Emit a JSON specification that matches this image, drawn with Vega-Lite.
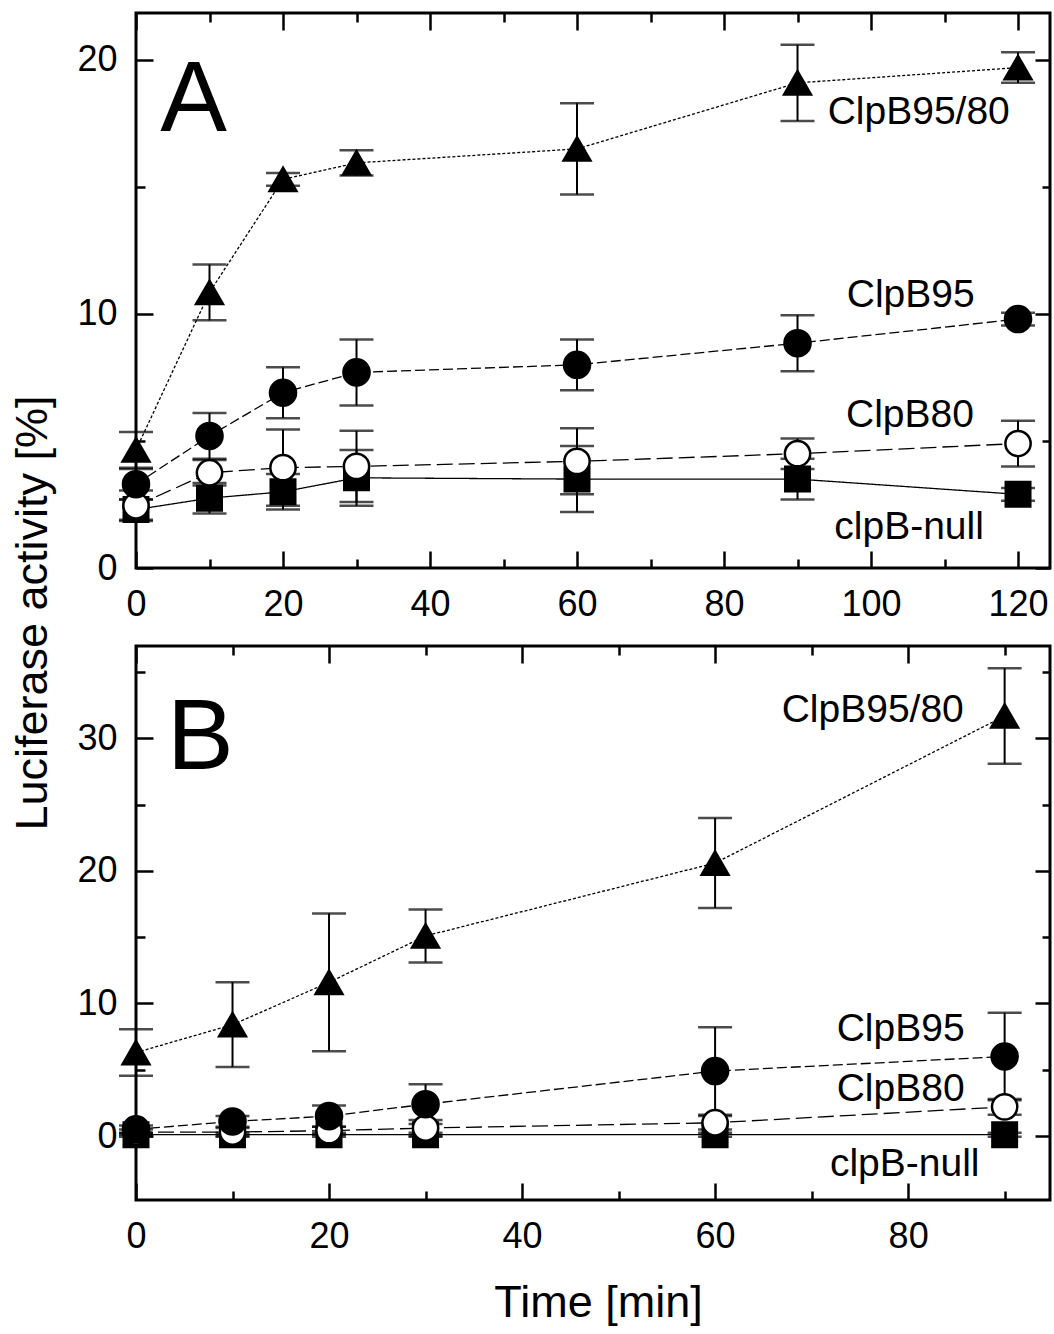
{
  "$schema": "https://vega.github.io/schema/vega-lite/v6.json",
  "background": "white",
  "padding": {"left": 8, "top": 10, "right": 2, "bottom": 5},
  "bounds": "flush",
  "spacing": 78,
  "config": {
    "view": {"stroke": "black", "strokeWidth": 3},
    "mark": {"color": "black"},
    "axis": {"labelFont": "Liberation Sans", "labelFontSize": 36, "labelColor": "black", "tickColor": "black", "domain": false, "grid": false, "titleFont": "Liberation Sans", "titleFontSize": 45, "titleFontWeight": "normal", "titleColor": "black", "labelFlush": false, "labelOverlap": false, "tickWidth": 2.5}
  },
  "datasets": {
    "a": [
      {"t": 0, "v": 2.3, "err": 0.4, "s": "clpB-null"},
      {"t": 10, "v": 2.75, "err": 0.6, "s": "clpB-null"},
      {"t": 20, "v": 3.0, "err": 0.7, "s": "clpB-null"},
      {"t": 30, "v": 3.55, "err": 1.1, "s": "clpB-null"},
      {"t": 60, "v": 3.5, "err": 1.3, "s": "clpB-null"},
      {"t": 90, "v": 3.5, "err": 0.8, "s": "clpB-null"},
      {"t": 120, "v": 2.9, "err": 0.25, "s": "clpB-null"},
      {"t": 0, "v": 2.45, "err": 0.6, "s": "ClpB80"},
      {"t": 10, "v": 3.75, "err": 0.5, "s": "ClpB80"},
      {"t": 20, "v": 3.95, "err": 1.5, "s": "ClpB80"},
      {"t": 30, "v": 4.0, "err": 1.4, "s": "ClpB80"},
      {"t": 60, "v": 4.2, "err": 1.3, "s": "ClpB80"},
      {"t": 90, "v": 4.5, "err": 0.6, "s": "ClpB80"},
      {"t": 120, "v": 4.9, "err": 0.9, "s": "ClpB80"},
      {"t": 0, "v": 3.3, "err": 0.6, "s": "ClpB95"},
      {"t": 10, "v": 5.2, "err": 0.9, "s": "ClpB95"},
      {"t": 20, "v": 6.9, "err": 1.0, "s": "ClpB95"},
      {"t": 30, "v": 7.7, "err": 1.3, "s": "ClpB95"},
      {"t": 60, "v": 8.0, "err": 1.0, "s": "ClpB95"},
      {"t": 90, "v": 8.85, "err": 1.1, "s": "ClpB95"},
      {"t": 120, "v": 9.8, "err": 0.25, "s": "ClpB95"},
      {"t": 0, "v": 4.65, "err": 0.7, "s": "ClpB95/80"},
      {"t": 10, "v": 10.85, "err": 1.1, "s": "ClpB95/80"},
      {"t": 20, "v": 15.3, "err": 0.25, "s": "ClpB95/80"},
      {"t": 30, "v": 15.95, "err": 0.5, "s": "ClpB95/80"},
      {"t": 60, "v": 16.5, "err": 1.8, "s": "ClpB95/80"},
      {"t": 90, "v": 19.1, "err": 1.5, "s": "ClpB95/80"},
      {"t": 120, "v": 19.7, "err": 0.6, "s": "ClpB95/80"}
    ],
    "b": [
      {"t": 0, "v": 0.1, "err": 0.15, "s": "clpB-null"},
      {"t": 10, "v": 0.1, "err": 0.15, "s": "clpB-null"},
      {"t": 20, "v": 0.1, "err": 0.15, "s": "clpB-null"},
      {"t": 30, "v": 0.1, "err": 0.15, "s": "clpB-null"},
      {"t": 60, "v": 0.1, "err": 0.15, "s": "clpB-null"},
      {"t": 90, "v": 0.1, "err": 0.15, "s": "clpB-null"},
      {"t": 0, "v": 0.3, "err": 0.2, "s": "ClpB80"},
      {"t": 10, "v": 0.3, "err": 0.3, "s": "ClpB80"},
      {"t": 20, "v": 0.4, "err": 0.3, "s": "ClpB80"},
      {"t": 30, "v": 0.6, "err": 0.6, "s": "ClpB80"},
      {"t": 60, "v": 1.0, "err": 0.5, "s": "ClpB80"},
      {"t": 90, "v": 2.2, "err": 0.6, "s": "ClpB80"},
      {"t": 0, "v": 0.5, "err": 0.3, "s": "ClpB95"},
      {"t": 10, "v": 1.1, "err": 0.4, "s": "ClpB95"},
      {"t": 20, "v": 1.5, "err": 0.8, "s": "ClpB95"},
      {"t": 30, "v": 2.4, "err": 1.5, "s": "ClpB95"},
      {"t": 60, "v": 4.9, "err": 3.3, "s": "ClpB95"},
      {"t": 90, "v": 6.0, "err": 3.3, "s": "ClpB95"},
      {"t": 0, "v": 6.3, "err": 1.75, "s": "ClpB95/80"},
      {"t": 10, "v": 8.4, "err": 3.2, "s": "ClpB95/80"},
      {"t": 20, "v": 11.6, "err": 5.2, "s": "ClpB95/80"},
      {"t": 30, "v": 15.1, "err": 2.0, "s": "ClpB95/80"},
      {"t": 60, "v": 20.6, "err": 3.4, "s": "ClpB95/80"},
      {"t": 90, "v": 31.7, "err": 3.6, "s": "ClpB95/80"}
    ],
    "la": [
      {"t": 94.1, "v": 17.48, "label": "ClpB95/80"},
      {"t": 96.7, "v": 10.28, "label": "ClpB95"},
      {"t": 96.6, "v": 5.55, "label": "ClpB80"},
      {"t": 95.0, "v": 1.14, "label": "clpB-null"}
    ],
    "lb": [
      {"t": 66.9, "v": 31.25, "label": "ClpB95/80"},
      {"t": 72.6, "v": 7.17, "label": "ClpB95"},
      {"t": 72.6, "v": 2.64, "label": "ClpB80"},
      {"t": 71.9, "v": -3.02, "label": "clpB-null"}
    ],
    "pa": [{"t": 3.3, "v": 17.2, "label": "A"}],
    "pb": [{"t": 3.2, "v": 27.7, "label": "B"}]
  },
  "vconcat": [
    {
      "width": 914,
      "height": 555,
      "resolve": {"axis": {"x": "independent", "y": "independent"}},
      "layer": [
        {
          "data": {"name": "a"},
          "mark": {"type": "line", "color": "black", "strokeWidth": 1.3},
          "encoding": {
            "x": {"field": "t", "type": "quantitative", "scale": {"domain": [0, 124.35], "nice": false, "zero": false},
              "axis": {"orient": "bottom", "title": null, "values": [0,10,20,30,40,50,60,70,80,90,100,110,120],
                "tickSize": {"condition": {"test": "datum.value % 20 === 0", "value": -17}, "value": -9},
                "labelExpr": "datum.value % 20 === 0 ? datum.label : ''", "labelPadding": 36}},
            "y": {"field": "v", "type": "quantitative", "scale": {"domain": [0, 21.85], "nice": false, "zero": false},
              "axis": {"orient": "left", "title": null, "values": [0,5,10,15,20],
                "tickSize": {"condition": {"test": "datum.value % 10 === 0", "value": -17}, "value": -9},
                "labelExpr": "datum.value % 10 === 0 ? datum.label : ''", "labelPadding": 36}},
            "strokeDash": {"field": "s", "type": "nominal", "scale": {"domain": ["clpB-null", "ClpB80", "ClpB95", "ClpB95/80"], "range": [[1, 0], [16, 6], [10, 4], [3, 2]]}, "legend": null}
          }
        },
        {
          "data": {"name": "a"},
          "mark": {"type": "errorbar", "color": "black", "thickness": 2, "ticks": {"size": 34, "thickness": 2.5, "color": "black"}},
          "encoding": {
            "x": {"field": "t", "type": "quantitative", "scale": {"domain": [0, 124.35], "nice": false, "zero": false}, "axis": null},
            "y": {"field": "v", "type": "quantitative", "scale": {"domain": [0, 21.85], "nice": false, "zero": false}, "axis": null},
            "yError": {"field": "err"}
          }
        },
        {
          "data": {"name": "a"},
          "mark": {"type": "point", "filled": true, "stroke": "black", "strokeWidth": 2.5, "opacity": 1},
          "encoding": {
            "x": {"field": "t", "type": "quantitative", "scale": {"domain": [0, 124.35], "nice": false, "zero": false},
              "axis": {"orient": "top", "title": null, "labels": false, "values": [0,10,20,30,40,50,60,70,80,90,100,110,120],
                "tickSize": {"condition": {"test": "datum.value % 20 === 0", "value": -17}, "value": -9}}},
            "y": {"field": "v", "type": "quantitative", "scale": {"domain": [0, 21.85], "nice": false, "zero": false},
              "axis": {"orient": "right", "title": null, "labels": false, "values": [0,5,10,15,20],
                "tickSize": {"condition": {"test": "datum.value % 10 === 0", "value": -15}, "value": -8}}},
            "shape": {"field": "s", "type": "nominal", "scale": {"domain": ["clpB-null", "ClpB80", "ClpB95", "ClpB95/80"], "range": ["square", "circle", "circle", "triangle-up"]}, "legend": null},
            "fill": {"field": "s", "type": "nominal", "scale": {"domain": ["clpB-null", "ClpB80", "ClpB95", "ClpB95/80"], "range": ["black", "white", "black", "black"]}, "legend": null},
            "size": {"field": "s", "type": "nominal", "scale": {"domain": ["clpB-null", "ClpB80", "ClpB95", "ClpB95/80"], "range": [600, 720, 760, 420]}, "legend": null}
          }
        },
        {
          "data": {"name": "la"},
          "mark": {"type": "text", "align": "left", "baseline": "alphabetic", "fontSize": 39, "font": "Liberation Sans", "color": "black"},
          "encoding": {
            "x": {"field": "t", "type": "quantitative", "scale": {"domain": [0, 124.35], "nice": false, "zero": false}, "axis": null},
            "y": {"field": "v", "type": "quantitative", "scale": {"domain": [0, 21.85], "nice": false, "zero": false}, "axis": null},
            "text": {"field": "label"}
          }
        },
        {
          "data": {"name": "pa"},
          "mark": {"type": "text", "align": "left", "baseline": "alphabetic", "fontSize": 100, "font": "Liberation Sans", "color": "black"},
          "encoding": {
            "x": {"field": "t", "type": "quantitative", "scale": {"domain": [0, 124.35], "nice": false, "zero": false}, "axis": null},
            "y": {"field": "v", "type": "quantitative", "scale": {"domain": [0, 21.85], "nice": false, "zero": false}, "axis": null},
            "text": {"field": "label"}
          }
        }
      ]
    },
    {
      "width": 914,
      "height": 554,
      "resolve": {"axis": {"x": "independent", "y": "independent"}},
      "layer": [
        {
          "data": {"name": "b"},
          "mark": {"type": "line", "color": "black", "strokeWidth": 1.3},
          "encoding": {
            "x": {"field": "t", "type": "quantitative", "scale": {"domain": [0, 94.7], "nice": false, "zero": false},
              "axis": {"orient": "bottom", "title": "Time [min]", "titleX": 462, "titleY": 116, "titleBaseline": "alphabetic", "titleAlign": "center", "values": [0,10,20,30,40,50,60,70,80,90],
                "tickSize": {"condition": {"test": "datum.value % 20 === 0", "value": -17}, "value": -9},
                "labelExpr": "datum.value % 20 === 0 ? datum.label : ''", "labelPadding": 36}},
            "y": {"field": "v", "type": "quantitative", "scale": {"domain": [-4.83, 36.98], "nice": false, "zero": false},
              "axis": {"orient": "left", "title": "Luciferase activity [%]", "titleX": -90, "titleY": -33.5, "titleAngle": -90, "titleBaseline": "alphabetic", "titleAlign": "center", "values": [0,5,10,15,20,25,30,35],
                "tickSize": {"condition": {"test": "datum.value % 10 === 0", "value": -17}, "value": -9},
                "labelExpr": "datum.value % 10 === 0 ? datum.label : ''", "labelPadding": 36}},
            "strokeDash": {"field": "s", "type": "nominal", "scale": {"domain": ["clpB-null", "ClpB80", "ClpB95", "ClpB95/80"], "range": [[1, 0], [16, 6], [10, 4], [3, 2]]}, "legend": null}
          }
        },
        {
          "data": {"name": "b"},
          "mark": {"type": "errorbar", "color": "black", "thickness": 2, "ticks": {"size": 34, "thickness": 2.5, "color": "black"}},
          "encoding": {
            "x": {"field": "t", "type": "quantitative", "scale": {"domain": [0, 94.7], "nice": false, "zero": false}, "axis": null},
            "y": {"field": "v", "type": "quantitative", "scale": {"domain": [-4.83, 36.98], "nice": false, "zero": false}, "axis": null},
            "yError": {"field": "err"}
          }
        },
        {
          "data": {"name": "b"},
          "mark": {"type": "point", "filled": true, "stroke": "black", "strokeWidth": 2.5, "opacity": 1},
          "encoding": {
            "x": {"field": "t", "type": "quantitative", "scale": {"domain": [0, 94.7], "nice": false, "zero": false},
              "axis": {"orient": "top", "title": null, "labels": false, "values": [0,10,20,30,40,50,60,70,80,90],
                "tickSize": {"condition": {"test": "datum.value % 20 === 0", "value": -17}, "value": -9}}},
            "y": {"field": "v", "type": "quantitative", "scale": {"domain": [-4.83, 36.98], "nice": false, "zero": false},
              "axis": {"orient": "right", "title": null, "labels": false, "values": [0,5,10,15,20,25,30,35],
                "tickSize": {"condition": {"test": "datum.value % 10 === 0", "value": -15}, "value": -8}}},
            "shape": {"field": "s", "type": "nominal", "scale": {"domain": ["clpB-null", "ClpB80", "ClpB95", "ClpB95/80"], "range": ["square", "circle", "circle", "triangle-up"]}, "legend": null},
            "fill": {"field": "s", "type": "nominal", "scale": {"domain": ["clpB-null", "ClpB80", "ClpB95", "ClpB95/80"], "range": ["black", "white", "black", "black"]}, "legend": null},
            "size": {"field": "s", "type": "nominal", "scale": {"domain": ["clpB-null", "ClpB80", "ClpB95", "ClpB95/80"], "range": [600, 720, 760, 420]}, "legend": null}
          }
        },
        {
          "data": {"name": "lb"},
          "mark": {"type": "text", "align": "left", "baseline": "alphabetic", "fontSize": 39, "font": "Liberation Sans", "color": "black"},
          "encoding": {
            "x": {"field": "t", "type": "quantitative", "scale": {"domain": [0, 94.7], "nice": false, "zero": false}, "axis": null},
            "y": {"field": "v", "type": "quantitative", "scale": {"domain": [-4.83, 36.98], "nice": false, "zero": false}, "axis": null},
            "text": {"field": "label"}
          }
        },
        {
          "data": {"name": "pb"},
          "mark": {"type": "text", "align": "left", "baseline": "alphabetic", "fontSize": 100, "font": "Liberation Sans", "color": "black"},
          "encoding": {
            "x": {"field": "t", "type": "quantitative", "scale": {"domain": [0, 94.7], "nice": false, "zero": false}, "axis": null},
            "y": {"field": "v", "type": "quantitative", "scale": {"domain": [-4.83, 36.98], "nice": false, "zero": false}, "axis": null},
            "text": {"field": "label"}
          }
        }
      ]
    }
  ]
}
